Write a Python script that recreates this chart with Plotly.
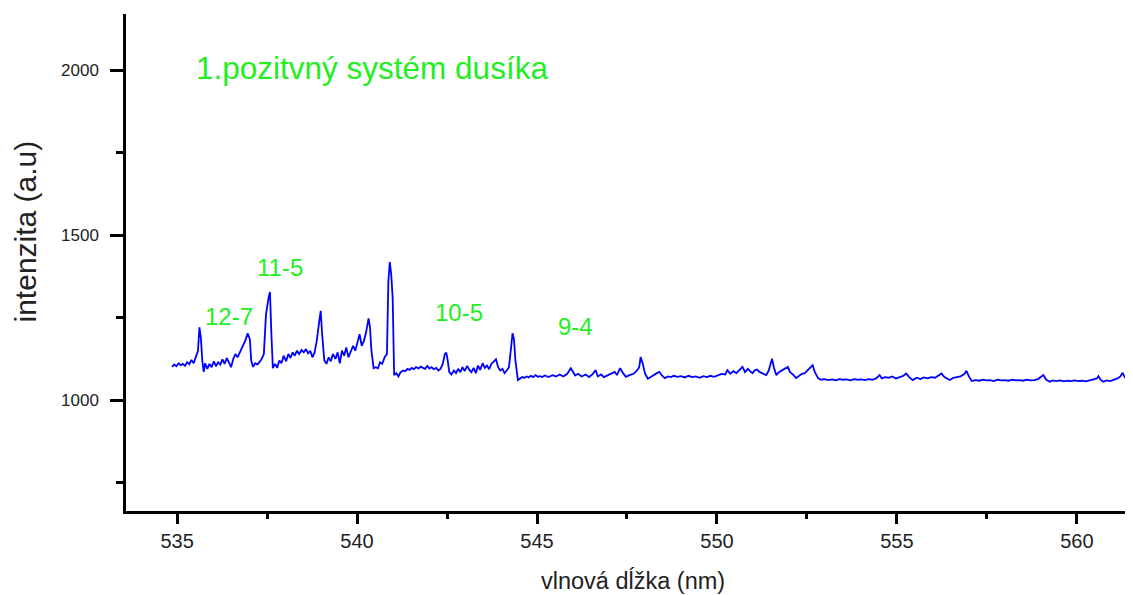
import plotly.graph_objects as go

# wavelength (nm) and intensity (a.u.)
wl = [534.86, 534.92, 534.98, 535.04, 535.10, 535.16, 535.22, 535.28, 535.34, 535.40,
      535.46, 535.52, 535.58, 535.62, 535.66, 535.70, 535.74, 535.78, 535.84, 535.90,
      535.96, 536.02, 536.08, 536.14, 536.20, 536.26, 536.32, 536.38, 536.44, 536.50,
      536.56, 536.62, 536.68, 536.74, 536.80, 536.90, 536.96, 537.02, 537.06, 537.11,
      537.17, 537.23, 537.29, 537.35, 537.41, 537.47, 537.54, 537.58, 537.62, 537.66,
      537.72, 537.78, 537.84, 537.90, 537.96, 538.03, 538.09, 538.15, 538.21, 538.27,
      538.33, 538.39, 538.46, 538.52, 538.58, 538.64, 538.70, 538.76, 538.82, 538.88,
      538.95, 538.99, 539.03, 539.09, 539.15, 539.21, 539.27, 539.33, 539.40, 539.46,
      539.52, 539.58, 539.64, 539.70, 539.76, 539.82, 539.89, 539.95, 540.01, 540.07,
      540.13, 540.19, 540.25, 540.32, 540.36, 540.40, 540.46, 540.52, 540.58, 540.64,
      540.70, 540.77, 540.83, 540.87, 540.91, 540.95, 540.99, 541.03, 541.09, 541.15,
      541.21, 541.28, 541.34, 541.40, 541.46, 541.52, 541.58, 541.64, 541.71, 541.77,
      541.83, 541.89, 541.95, 542.01, 542.07, 542.13, 542.20, 542.26, 542.32, 542.38,
      542.44, 542.48, 542.52, 542.56, 542.62, 542.69, 542.75, 542.81, 542.87, 542.93,
      542.99, 543.06, 543.12, 543.18, 543.24, 543.30, 543.36, 543.42, 543.49, 543.55,
      543.61, 543.67, 543.73, 543.80, 543.86, 543.92, 543.98, 544.04, 544.10, 544.16,
      544.22, 544.28, 544.32, 544.36, 544.40, 544.47, 544.53, 544.59, 544.65, 544.71,
      544.77, 544.83, 544.89, 544.96, 545.02, 545.08, 545.14, 545.22, 545.32, 545.43,
      545.53, 545.63, 545.73, 545.84, 545.94, 546.00, 546.06, 546.14, 546.24, 546.35,
      546.45, 546.55, 546.63, 546.69, 546.78, 546.86, 546.96, 547.06, 547.16, 547.22,
      547.31, 547.39, 547.47, 547.57, 547.68, 547.78, 547.84, 547.88, 547.94, 548.00,
      548.08, 548.16, 548.25, 548.33, 548.40, 548.47, 548.55, 548.64, 548.72, 548.80,
      548.90, 549.00, 549.11, 549.21, 549.31, 549.41, 549.52, 549.62, 549.72, 549.82,
      549.92, 550.03, 550.13, 550.23, 550.29, 550.37, 550.46, 550.54, 550.62, 550.71,
      550.78, 550.86, 550.92, 550.99, 551.05, 551.11, 551.19, 551.27, 551.37, 551.44,
      551.50, 551.53, 551.58, 551.65, 551.72, 551.80, 551.89, 551.97, 552.03, 552.11,
      552.20, 552.28, 552.36, 552.44, 552.52, 552.60, 552.66, 552.72, 552.81, 552.89,
      552.99, 553.09, 553.20, 553.30, 553.40, 553.50, 553.60, 553.71, 553.81, 553.91,
      554.01, 554.11, 554.22, 554.32, 554.42, 554.52, 554.58, 554.67, 554.77, 554.87,
      554.97, 555.08, 555.18, 555.26, 555.34, 555.44, 555.55, 555.65, 555.75, 555.85,
      555.96, 556.06, 556.16, 556.24, 556.32, 556.40, 556.47, 556.57, 556.67, 556.77,
      556.88, 556.93, 557.00, 557.08, 557.18, 557.29, 557.39, 557.49, 557.59, 557.69,
      557.80, 557.90, 558.00, 558.10, 558.21, 558.31, 558.41, 558.51, 558.61, 558.72,
      558.82, 558.92, 559.07, 559.15, 559.25, 559.33, 559.43, 559.53, 559.64, 559.74,
      559.84, 559.94, 560.04, 560.15, 560.25, 560.35, 560.45, 560.56, 560.60, 560.66,
      560.73, 560.83, 560.93, 561.03, 561.13, 561.21, 561.27, 561.33, 561.42, 561.52,
      561.58]

inten = [1101, 1108, 1103, 1112, 1106, 1110, 1104, 1115, 1109, 1122,
         1112, 1130, 1150, 1221, 1190, 1120, 1086, 1112, 1095, 1110,
         1100, 1118, 1103, 1115, 1108, 1124, 1110, 1128, 1112, 1100,
         1125, 1140, 1130, 1145, 1160, 1182, 1203, 1185, 1120, 1101,
         1112, 1108, 1116, 1125, 1140, 1260, 1310, 1328, 1200, 1097,
         1110, 1098, 1120, 1112, 1135, 1118, 1140, 1128, 1145, 1135,
         1150, 1140, 1152, 1145, 1155, 1142, 1150, 1130, 1145, 1180,
         1240, 1271, 1200, 1121, 1110, 1130, 1118, 1140, 1125, 1145,
         1112, 1150, 1135, 1160, 1130, 1145, 1165, 1150, 1175, 1200,
         1165, 1180, 1205, 1248, 1220, 1150, 1097, 1100, 1097, 1115,
         1110, 1131, 1140, 1360, 1419, 1380, 1309, 1076, 1082, 1072,
         1085, 1090, 1088, 1095, 1092, 1098, 1094, 1100, 1096, 1102,
         1098, 1095, 1104, 1096, 1100, 1094, 1098, 1090, 1095, 1110,
         1140, 1144, 1120, 1086, 1078, 1090, 1082, 1095, 1085, 1100,
         1088, 1104, 1092, 1085, 1098, 1082, 1105, 1092, 1112, 1098,
         1105, 1094, 1110, 1118, 1124, 1100, 1090, 1095, 1082, 1090,
         1100, 1160, 1203, 1185, 1120, 1061, 1066, 1070, 1068, 1072,
         1069, 1074, 1070, 1076, 1071, 1073, 1070, 1075, 1070, 1076,
         1072, 1078, 1072, 1080, 1097, 1085, 1075, 1080, 1072, 1078,
         1070, 1080, 1091, 1072, 1078, 1070, 1075, 1080, 1086, 1076,
         1097, 1082, 1071, 1076, 1080, 1090, 1100, 1131, 1110, 1081,
         1065, 1070, 1075, 1082, 1086, 1075, 1067, 1072, 1070, 1074,
         1071, 1073, 1069, 1074, 1070, 1072, 1068, 1073, 1070, 1074,
         1071, 1076, 1080, 1078, 1091, 1080, 1088, 1082, 1092, 1101,
         1085, 1095, 1088, 1082, 1091, 1093, 1085, 1080, 1076, 1090,
         1110, 1126, 1100, 1076, 1085, 1090, 1095, 1101, 1085, 1078,
         1067, 1075, 1080, 1082, 1090, 1100, 1106, 1085, 1067, 1062,
         1064, 1061, 1063, 1060, 1064, 1062, 1063, 1060, 1064, 1062,
         1063, 1061, 1064, 1062, 1066, 1076, 1066, 1070, 1068, 1072,
         1066, 1070, 1074, 1081, 1070, 1061, 1068, 1064, 1069, 1066,
         1070, 1068, 1074, 1081, 1070, 1066, 1061, 1068, 1070, 1072,
         1080, 1089, 1072, 1058, 1061, 1059, 1062, 1060, 1061, 1058,
         1062, 1060, 1061, 1059, 1062, 1060, 1061, 1059, 1062, 1060,
         1061, 1064, 1076, 1062, 1056, 1060, 1058, 1060, 1057, 1059,
         1058, 1060, 1058, 1059, 1057, 1060, 1062, 1066, 1073, 1062,
         1056, 1060, 1058, 1062, 1066, 1072, 1083, 1070, 1056, 1058,
         1057]

# band labels: text, wavelength, intensity
band_text = ["12-7", "11-5", "10-5", "9-4"]
band_x = [536.45, 537.86, 542.84, 546.07]
band_y = [1254, 1403, 1266, 1224]

title_text = "1.pozitvný systém dusíka"
green = "#22ee22"
font_name = "Liberation Sans, Arial"

fig = go.Figure()
fig.add_trace(go.Scatter(x=wl, y=inten, mode="lines",
                         line=dict(color="#0000ff", width=1.8),
                         showlegend=False))

for t, bx, by in zip(band_text, band_x, band_y):
    fig.add_annotation(x=bx, y=by, text=t, showarrow=False,
                       xanchor="center", yanchor="middle",
                       font=dict(family=font_name, size=24, color=green))

fig.add_annotation(x=535.47, y=2006, text=title_text, showarrow=False,
                   xanchor="left", yanchor="middle",
                   font=dict(family=font_name, size=31.5, color=green))

# axis titles
fig.add_annotation(xref="paper", yref="paper", x=0.503, y=-0.139,
                   xanchor="center", yanchor="middle",
                   text="vlnová dĺžka (nm)", showarrow=False,
                   font=dict(family=font_name, size=23.5, color="#222"))
fig.add_annotation(xref="paper", yref="paper", x=-0.1, y=0.563,
                   xanchor="center", yanchor="middle",
                   text="intenzita (a.u)", showarrow=False, textangle=-90,
                   font=dict(family=font_name, size=30, color="#222"))

fig.update_xaxes(range=[533.58, 561.56], tickmode="array",
                 tickvals=[535, 540, 545, 550, 555, 560],
                 ticks="outside", ticklen=10, tickwidth=2.5, tickcolor="black",
                 showline=True, linewidth=2.5, linecolor="black",
                 showgrid=False, zeroline=False,
                 minor=dict(tickvals=[537.5, 542.5, 547.5, 552.5, 557.5],
                            ticks="outside", ticklen=5, tickwidth=2.5, tickcolor="black"),
                 tickfont=dict(family=font_name, size=20, color="#222"))
fig.update_yaxes(range=[664, 2171], tickmode="array",
                 tickvals=[1000, 1500, 2000],
                 ticks="outside", ticklen=13, tickwidth=2.5, tickcolor="black",
                 showline=True, linewidth=2.5, linecolor="black",
                 showgrid=False, zeroline=False, ticklabelstandoff=8,
                 minor=dict(tickvals=[750, 1250, 1750],
                            ticks="outside", ticklen=7, tickwidth=2.5, tickcolor="black"),
                 tickfont=dict(family=font_name, size=17, color="#222"))

# the page body adds an 8px margin, so the figure is sized to fit what is left
fig.update_layout(width=1125, height=587, autosize=False,
                  margin=dict(l=118, r=0, t=6, b=84, pad=0),
                  plot_bgcolor="white", paper_bgcolor="white")

fig.write_html("out.html")
